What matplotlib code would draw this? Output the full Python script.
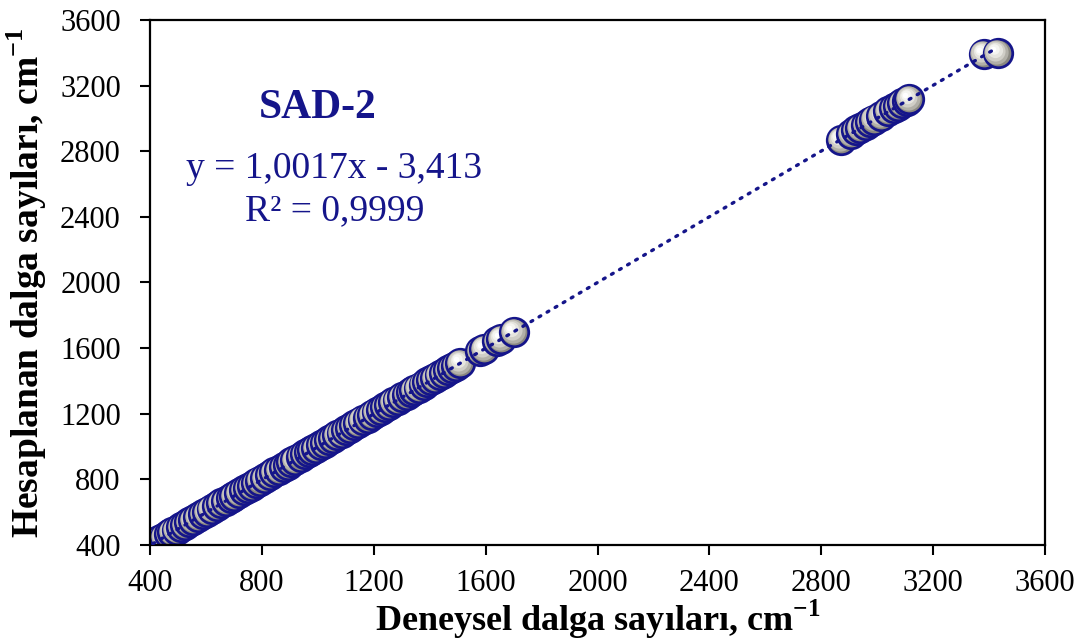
import matplotlib
matplotlib.use("Agg")
import matplotlib.pyplot as plt
from matplotlib.transforms import ScaledTranslation

plt.rcParams["font.family"] = ["Liberation Serif", "DejaVu Serif"]
plt.rcParams["mathtext.fontset"] = "custom"
plt.rcParams["mathtext.rm"] = "Liberation Serif"
plt.rcParams["mathtext.bf"] = "Liberation Serif:bold"

# Experimental vs. calculated wavenumbers (cm-1)
deneysel = [410, 425, 440, 452, 468, 480, 495, 510, 525, 540, 555, 572, 590, 605,
            620, 640, 655, 672, 690, 700, 718, 735, 750, 765, 780, 795, 810, 828,
            845, 860, 878, 892, 905, 920, 940, 955, 968, 980, 995, 1010, 1025, 1040,
            1055, 1070, 1085, 1100, 1115, 1130, 1145, 1160, 1178, 1195, 1210, 1225,
            1240, 1255, 1270, 1285, 1300, 1318, 1332, 1345, 1360, 1378, 1392, 1405,
            1420, 1435, 1450, 1465, 1480, 1495, 1510, 1580, 1595, 1640, 1655, 1700,
            2870, 2905, 2925, 2940, 2960, 2975, 2990, 3015, 3040, 3060, 3075, 3090,
            3105, 3115, 3380, 3430]
hesaplanan = [405, 423, 436, 451, 466, 479, 492, 509, 521, 538, 553, 570, 588, 602,
              619, 637, 654, 670, 688, 699, 716, 733, 749, 762, 779, 793, 809, 826,
              843, 859, 876, 890, 904, 918, 939, 953, 967, 979, 993, 1009, 1023, 1039,
              1053, 1069, 1084, 1099, 1113, 1129, 1144, 1159, 1177, 1193, 1209, 1224,
              1239, 1254, 1269, 1284, 1300, 1317, 1331, 1345, 1359, 1378, 1391, 1405,
              1419, 1435, 1449, 1465, 1480, 1494, 1510, 1580, 1595, 1641, 1656, 1700,
              2868, 2907, 2928, 2942, 2962, 2978, 2993, 3017, 3043, 3063, 3078, 3093,
              3108, 3120, 3392, 3400]

egim = 1.0017
kesim = -3.413
ticks = [400, 800, 1200, 1600, 2000, 2400, 2800, 3200, 3600]

navy = "#15158a"

fig = plt.figure(figsize=(10.83, 6.44), dpi=100)
ax = fig.add_axes([0.1385, 0.1537, 0.8265, 0.8153])

# Shaded sphere markers: a grey base with the navy rim, then lighter
# discs shifted toward the upper left for the highlight.
layers = [
    (20.5, "#8a8880", 0.0, 0.0),
    (17.5, "#b2b0a8", -0.8, 0.8),
    (14.5, "#d0cec7", -1.5, 1.5),
    (11.0, "#e6e5df", -2.1, 2.1),
    (7.5, "#f5f5f1", -2.6, 2.6),
    (4.0, "#ffffff", -3.0, 3.0),
]
z = 2.0
for xv, yv in zip(deneysel, hesaplanan):
    for i, (ms, fc, dx, dy) in enumerate(layers):
        tr = ax.transData + ScaledTranslation(dx / 72, dy / 72, fig.dpi_scale_trans)
        if i == 0:
            ax.plot([xv], [yv], "o", ms=ms, mfc=fc, mec=navy, mew=2.0,
                    transform=tr, zorder=z)
        else:
            ax.plot([xv], [yv], "o", ms=ms, mfc=fc, mec="none",
                    transform=tr, zorder=z)
        z += 0.001

# Linear trend line from the fitted coefficients
x0, x1 = min(deneysel), max(deneysel)
ax.plot([x0, x1], [egim * x0 + kesim, egim * x1 + kesim], color=navy,
        lw=2.4, ls=(0, (0.6, 2.2)), dash_capstyle="round", zorder=10)

ax.set_xlim(400, 3600)
ax.set_ylim(400, 3600)
ax.set_xticks(ticks)
ax.set_yticks(ticks)
ax.set_xticklabels([str(t) for t in ticks])
ax.set_yticklabels([str(t) for t in ticks])
ax.tick_params(axis="both", direction="out", length=7, width=1.5,
               labelsize=22)
ax.tick_params(axis="x", pad=10)
ax.tick_params(axis="y", pad=14)
for sp in ax.spines.values():
    sp.set_linewidth(1.6)

ax.set_xlabel(r"Deneysel dalga sayıları, cm$^{\mathbf{-1}}$", fontsize=26,
              fontweight="bold", labelpad=0)
ax.set_ylabel(r"Hesaplanan dalga sayıları, cm$^{\mathbf{-1}}$", fontsize=27,
              fontweight="bold", labelpad=8)

ax.text(0.187, 0.833, "SAD-2", transform=ax.transAxes, ha="center", va="center",
        fontsize=30, fontweight="bold", color=navy)
ax.text(0.206, 0.717, "y = 1,0017x - 3,413", transform=ax.transAxes,
        ha="center", va="center", fontsize=27, color=navy)
ax.text(0.206, 0.637, "R² = 0,9999", transform=ax.transAxes,
        ha="center", va="center", fontsize=27, color=navy)

fig.savefig("out.png", dpi=100)
